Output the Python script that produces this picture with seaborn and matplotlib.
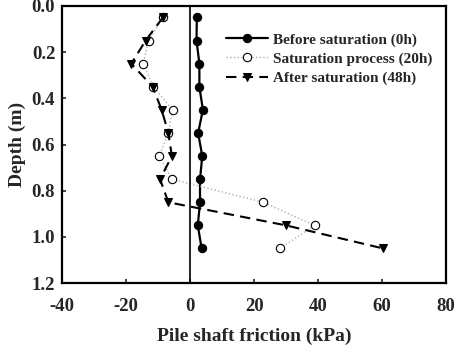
import matplotlib
matplotlib.use("Agg")
import matplotlib.pyplot as plt
import seaborn as sns
import pandas as pd

depth = [0.05, 0.15, 0.25, 0.35, 0.45, 0.55, 0.65, 0.75, 0.85, 0.95, 1.05]
before = [2.1, 2.0, 2.9, 2.9, 4.0, 2.5, 3.8, 3.1, 3.1, 2.4, 3.6]
process = [-8.5, -13.0, -14.6, -11.5, -5.5, -6.8, -9.6, -5.7, 22.9, 38.9, 28.1]
after = [-8.5, -13.9, -18.4, -11.7, -8.9, -6.8, -5.7, -9.4, -6.8, 30.0, 60.4]
labels = ["Before saturation (0h)", "Saturation process (20h)", "After saturation (48h)"]
xticks = [-40, -20, 0, 20, 40, 60, 80]
yticks = [0.0, 0.2, 0.4, 0.6, 0.8, 1.0, 1.2]

sns.set_style("ticks")
plt.rcParams['font.family'] = ['Liberation Serif', 'DejaVu Serif']
plt.rcParams['font.weight'] = 'bold'

fig = plt.figure(figsize=(4.57, 3.47), dpi=100)
ax = fig.add_axes([0.136, 0.184, 0.840, 0.799])

sns.lineplot(x=before, y=depth, sort=False, estimator=None, ax=ax, color='black',
             linewidth=1.6, marker='o', markersize=6, markeredgecolor='black',
             label=labels[0])
sns.lineplot(x=process, y=depth, sort=False, estimator=None, ax=ax, color='#b0b0b0',
             linewidth=1.0, linestyle=':', marker='o', markersize=6,
             markerfacecolor='white', markeredgecolor='black', markeredgewidth=0.8,
             label=labels[1])
sns.lineplot(x=after, y=depth, sort=False, estimator=None, ax=ax, color='black',
             linewidth=1.5, linestyle=(0, (5, 3)), marker='v', markersize=6,
             markeredgecolor='black', label=labels[2])

ax.axvline(0, color='black', linewidth=1.2)

ax.set_xlim(-40, 80)
ax.set_ylim(1.2, 0.0)
ax.set_xticks(xticks)
ax.set_yticks(yticks)
ax.set_xticklabels([str(t) for t in xticks], fontsize=13.5, fontweight='bold')
ax.set_yticklabels([f"{t:.1f}" for t in yticks], fontsize=13.5, fontweight='bold')
ax.tick_params(direction='in', length=3, width=1.2)
ax.tick_params(axis='x', pad=11)
ax.tick_params(axis='y', pad=5)
for s in ax.spines.values():
    s.set_linewidth(1.6)
    s.set_color('black')

ax.set_xlabel("Pile shaft friction (kPa)", fontsize=14, fontweight='bold', labelpad=9)
ax.set_ylabel("Depth (m)", fontsize=14, fontweight='bold', labelpad=4)

leg = ax.legend(loc='upper right', bbox_to_anchor=(0.98, 0.925), frameon=False,
                prop={'family': 'Liberation Serif', 'weight': 'bold', 'size': 11},
                handlelength=2.8, labelspacing=0.35, handletextpad=0.3,
                borderaxespad=0.0)

fig.savefig("out.png", dpi=100)
